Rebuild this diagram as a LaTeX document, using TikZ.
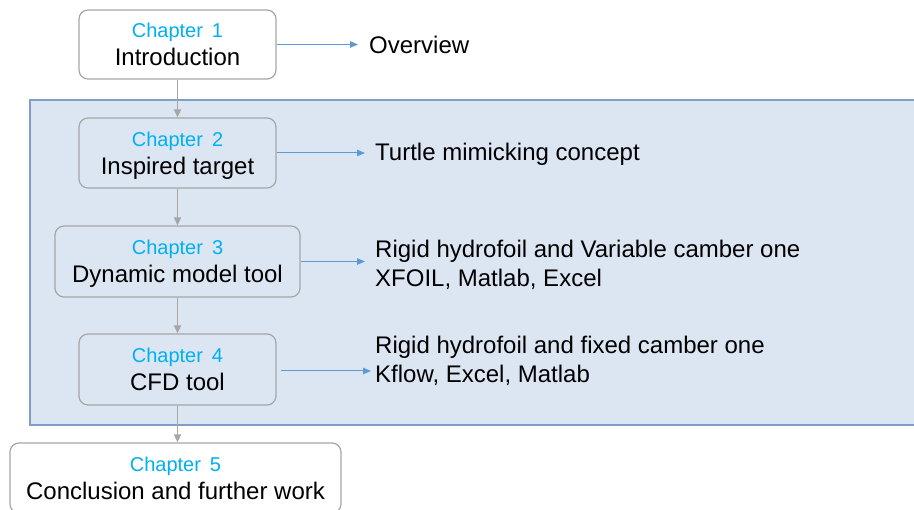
\documentclass[tikz,border=0pt]{standalone}
\usepackage{fontspec}
\setmainfont{Liberation Sans}
\usetikzlibrary{arrows.meta}
\definecolor{chapcol}{HTML}{00B0F0}
\definecolor{panelfill}{HTML}{DCE6F2}
\definecolor{paneldraw}{HTML}{7F9FC6}
\definecolor{boxdraw}{HTML}{A6A6A6}
\definecolor{linkcol}{HTML}{5B9BD5}
\newcommand\chaptag[1]{{\color{chapcol}\fontsize{20}{24}\selectfont Chapter\hspace{0.45em}#1}}
\begin{document}
\begin{tikzpicture}[x=1pt,y=1pt,
  chbox/.style={draw=boxdraw, line width=1.2pt, rounded corners=9pt, align=center, inner sep=0pt, text depth=0pt, font=\fontsize{24}{28}\selectfont},
  flow/.style={draw=boxdraw, line width=1.6pt, -{Triangle[width=7pt,length=8pt]}},
  linkarrow/.style={draw=linkcol, line width=1pt, -{Triangle[width=6.5pt,length=8pt]}},
  desc/.style={anchor=west, inner sep=0pt, align=left, font=\fontsize{24}{29.5}\selectfont}]
\useasboundingbox (0,0) rectangle (914,-510);
\path[fill=panelfill, draw=paneldraw, line width=1.8pt] (30,-100) rectangle (930,-425);

\node[chbox, fill=white, minimum width=197pt, minimum height=69pt] (c1) at (177.5,-44.5) {\chaptag{1}\\Introduction};
\node[chbox, fill=panelfill, minimum width=197pt, minimum height=70pt] (c2) at (177.5,-153) {\chaptag{2}\\Inspired target};
\node[chbox, fill=panelfill, minimum width=245pt, minimum height=71pt] (c3) at (177.5,-261.5) {\chaptag{3}\\Dynamic model tool};
\node[chbox, fill=panelfill, minimum width=197pt, minimum height=71pt] (c4) at (177.5,-369.5) {\chaptag{4}\\CFD tool};
\node[chbox, fill=white, minimum width=331pt, minimum height=70pt] (c5) at (175.5,-478) {\chaptag{5}\\Conclusion and further work};

\node[desc] (t1) at (369,-45) {Overview};
\node[desc] (t2) at (375,-154) {Turtle mimicking concept};
\node[desc] (t3) at (375,-265) {Rigid hydrofoil and Variable camber one\\XFOIL, Matlab, Excel};
\node[desc] (t4) at (375,-361) {Rigid hydrofoil and fixed camber one\\Kflow, Excel, Matlab};
\coordinate (e4) at (371,-371);

\draw[flow] (c1.south) -- (c2.north);
\draw[flow] (c2.south) -- (c3.north);
\draw[flow] (c3.south) -- (c4.north);
\draw[flow] (c4.south) -- (c4.south |- c5.north);

\draw[linkarrow] (c1.east) -- ([xshift=-11pt]c1.east -| t1.west);
\draw[linkarrow] (c2.east) -- ([xshift=-10pt]c2.east -| t2.west);
\draw[linkarrow] (c3.east) -- ([xshift=-10pt]c3.east -| t3.west);
\draw[linkarrow] ([xshift=4pt]c4.east |- e4) -- (e4);
\end{tikzpicture}
\end{document}
